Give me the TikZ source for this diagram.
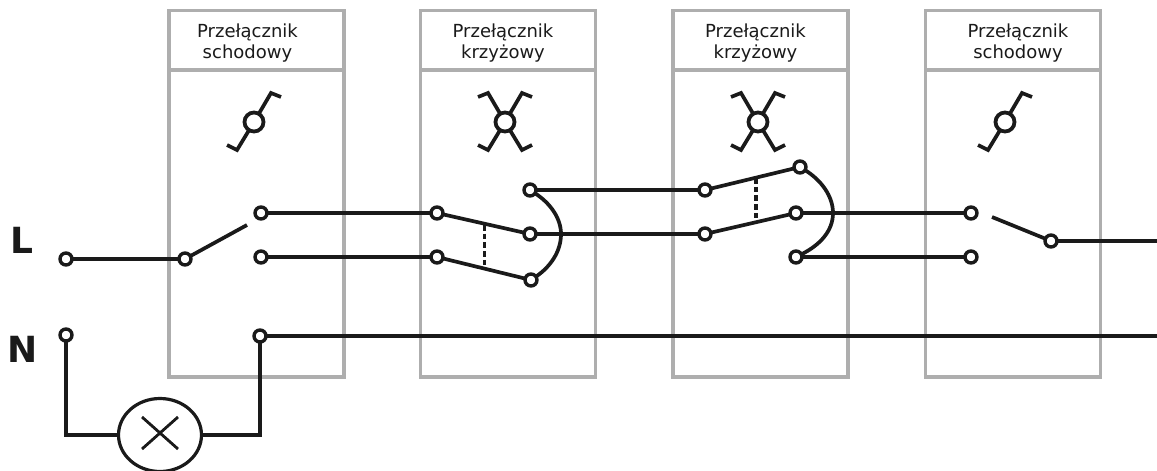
\documentclass[tikz,border=0pt]{standalone}
\usepackage{fontspec}
\setmainfont{DejaVu Sans}
\definecolor{boxgray}{HTML}{AEAEAE}
\definecolor{ink}{HTML}{1A1A1A}
\tikzset{
  terminal/.style={circle,draw=ink,fill=white,line width=3.4pt,minimum size=12pt,inner sep=0pt,outer sep=0pt},
  symring/.style={circle,draw=ink,fill=white,line width=3.8pt,minimum size=19pt,inner sep=0pt,outer sep=0pt},
  wire/.style={draw=ink,line width=3.2pt},
  slant/.style={draw=ink,line width=3.7pt},
  frame/.style={draw=boxgray,line width=3.6pt,minimum width=175pt,minimum height=366.5pt,inner sep=0pt,outer sep=0pt},
  boxtitle/.style={align=center,font=\fontsize{18}{21}\selectfont,text=ink,inner sep=0pt},
  phase/.style={font=\fontsize{36}{36}\bfseries\selectfont,text=ink,inner sep=0pt},
  lamp/.style={ellipse,draw=ink,fill=white,line width=3.2pt,minimum width=83pt,minimum height=73pt,inner sep=0pt,outer sep=0pt},
}
\usetikzlibrary{shapes.geometric}
\begin{document}
\begin{tikzpicture}[x=1pt,y=-1pt]
\useasboundingbox (0,0) rectangle (1157,471);
\fill[white] (0,0) rectangle (1157,471);
% frames
\foreach \n/\x in {1/256.5,2/508,3/760.5,4/1013}{
  \node[frame] (box\n) at (\x,193.75) {};
  \draw[draw=boxgray,line width=3.6pt] (box\n.west |- 0,70) -- (box\n.east |- 0,70);
}
\node[boxtitle] (t1) at (247.5,43) {Przełącznik\\schodowy};
\node[boxtitle] (t2) at (503,43) {Przełącznik\\krzyżowy};
\node[boxtitle] (t3) at (755.5,43) {Przełącznik\\krzyżowy};
\node[boxtitle] (t4) at (1018,43) {Przełącznik\\schodowy};
% symbols
\node[symring] (s1) at (254,122) {};
\node[symring] (s2) at (505,122) {};
\node[symring] (s3) at (758,122) {};
\node[symring] (s4) at (1005,122) {};
\foreach \s in {s1,s2,s3,s4}{
  \draw[slant,miter limit=4] (\s) -- ++(17,-29) -- ++(10,4);
  \draw[slant] (\s) -- ++(-17,28) -- ++(-10,-5);
}
\foreach \s in {s2,s3}{
  \draw[slant] (\s) -- ++(-17,-29) -- ++(-10,4);
  \draw[slant] (\s) -- ++(17,28) -- ++(10,-5);
}
% phase labels
\node[phase] (L) at (22,240) {L};
\node[phase] (N) at (22.5,349) {N};
% terminals
\node[terminal] (lin) at (66,259) {};
\node[terminal] (nin) at (66,335) {};
\node[terminal] (a0) at (185,259) {};
\node[terminal] (a1) at (261,213) {};
\node[terminal] (a2) at (261,257) {};
\node[terminal] (an) at (260,336) {};
\node[terminal] (b1) at (437,213) {};
\node[terminal] (b2) at (437,257) {};
\node[terminal] (b3) at (530,190) {};
\node[terminal] (b4) at (530,234) {};
\node[terminal] (b5) at (531,280) {};
\node[terminal] (c1) at (705,190) {};
\node[terminal] (c2) at (705,234) {};
\node[terminal] (c3) at (800,167) {};
\node[terminal] (c4) at (796,213) {};
\node[terminal] (c5) at (796,257) {};
\node[terminal] (d1) at (971,213) {};
\node[terminal] (d2) at (971,257) {};
\node[terminal] (d0) at (1051,241) {};
\node[lamp] (lp) at (160,435) {};
\coordinate (armA) at (247,225);
\coordinate (armD) at (992,217);
\coordinate (outL) at (1157,241);
\coordinate (outN) at (1157,336);
\coordinate (lampL) at (66,435);
\coordinate (lampR) at (260,435);
\coordinate (xa) at (142,417);
\coordinate (xb) at (178,449);
\coordinate (xc) at (178,417);
\coordinate (xd) at (142,449);
\coordinate (dbt) at (484.5,225);
\coordinate (dbb) at (484.5,268);
\coordinate (dct) at (756,178);
\coordinate (dcb) at (756,220);
% connectors
\draw[wire] (lin) -- (a0);
\draw[slant] (a0) -- (armA);
\draw[wire] (a1) -- (b1);
\draw[wire] (a2) -- (b2);
\draw[slant] (b1) -- (b4);
\draw[slant] (b2) -- (b5);
\draw[wire] (b3) -- (c1);
\draw[wire] (b4) -- (c2);
\draw[slant] (c1) -- (c3);
\draw[slant] (c2) -- (c4);
\draw[wire] (c4) -- (d1);
\draw[wire] (c5) -- (d2);
\draw[slant] (d0) -- (armD);
\draw[wire] (d0) -- (outL);
\draw[wire] (an) -- (outN);
\draw[slant] (b3) .. controls (550,203) and (561,218) .. (561,234) .. controls (561,252) and (550,267) .. (b5);
\draw[slant] (c3) .. controls (821,180) and (833,196) .. (833,213) .. controls (833,231) and (820,245) .. (c5);
\draw[slant,dash pattern=on 5.5pt off 3.2pt] (dbt) -- (dbb);
\draw[slant,dash pattern=on 5.5pt off 3.2pt] (dct) -- (dcb);
\draw[wire] (nin) -- (lampL) -- (lp);
\draw[wire] (an) -- (lampR) -- (lp);
\draw[slant,line width=2.8pt] (xa) -- (xb);
\draw[slant,line width=2.8pt] (xc) -- (xd);
\end{tikzpicture}
\end{document}
